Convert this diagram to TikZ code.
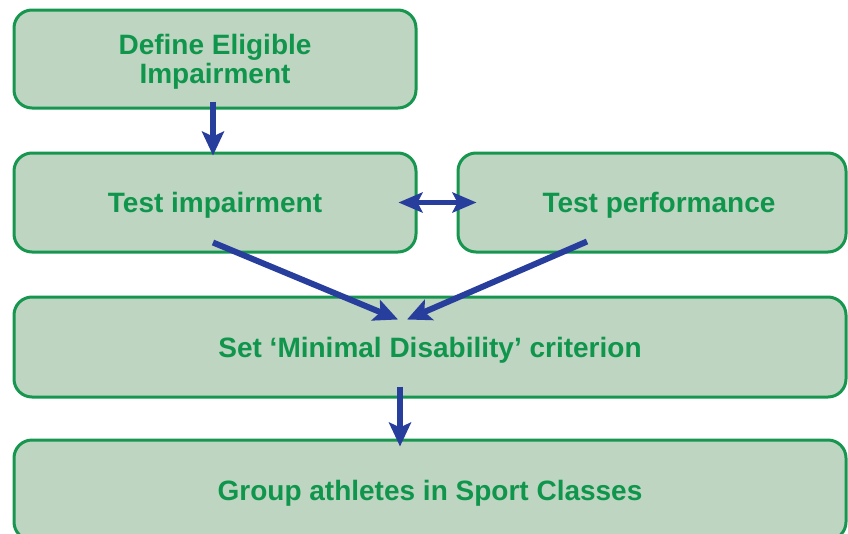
\documentclass[tikz,border=0pt]{standalone}
\usepackage{fontspec}
\setmainfont{Liberation Sans}
\usetikzlibrary{arrows.meta, positioning}
\definecolor{cBoxLine}{RGB}{22,150,78}
\definecolor{cBoxFill}{RGB}{190,213,193}
\definecolor{cText}{RGB}{16,150,76}
\definecolor{cArrow}{RGB}{40,62,156}

\tikzset{
  stagebox/.style={draw=cBoxLine, fill=cBoxFill, line width=3pt,
    rounded corners=18pt, align=center, text=cText, text depth=0pt,
    font=\bfseries\fontsize{28}{29}\selectfont, inner sep=0pt},
  flow/.style={draw=cArrow, line width=6pt,
    -{Stealth[length=24pt, width=22pt, inset=5pt]}},
  twoway/.style={draw=cArrow, line width=5pt,
    {Stealth[length=24pt, width=20pt, inset=5pt]}-{Stealth[length=24pt, width=20pt, inset=5pt]}}
}

\begin{document}
\begin{tikzpicture}[x=1pt, y=-1pt]
    \useasboundingbox (0,0) rectangle (848,533);
    % the five stages
    \node[stagebox, minimum width=402pt, minimum height=98pt] (define) at (215,59)
      {Define Eligible\\Impairment};
    \node[stagebox, minimum width=402pt, minimum height=99pt] (testimp) at (215,202.5)
      {Test impairment};
    \node[stagebox, minimum width=388pt, minimum height=99pt] (testperf) at (652,202.5)
      {\hspace*{14pt}Test performance};
    \node[stagebox, minimum width=832pt, minimum height=100pt] (criterion) at (430,347)
      {Set `Minimal Disability' criterion};
    \node[stagebox, minimum width=832pt, minimum height=100pt] (group) at (430,490)
      {Group athletes in Sport Classes};
    % arrows between the stages
    \draw[flow] ([xshift=-2pt, yshift=8pt]define.south) -- ([xshift=-2pt, yshift=-4pt]testimp.north);
    \draw[twoway] ([xshift=-19pt]testimp.east) -- ([xshift=20pt]testperf.west);
    \draw[flow] ([xshift=-2pt, yshift=11pt]testimp.south) -- ([xshift=-32pt, yshift=-24pt]criterion.north);
    \draw[flow] ([xshift=-65pt, yshift=12pt]testperf.south) -- ([xshift=-23pt, yshift=-24pt]criterion.north);
    \draw[flow] ([xshift=-30pt, yshift=12pt]criterion.south) -- ([xshift=-30pt, yshift=-8pt]group.north);
  \end{tikzpicture}
\end{document}
